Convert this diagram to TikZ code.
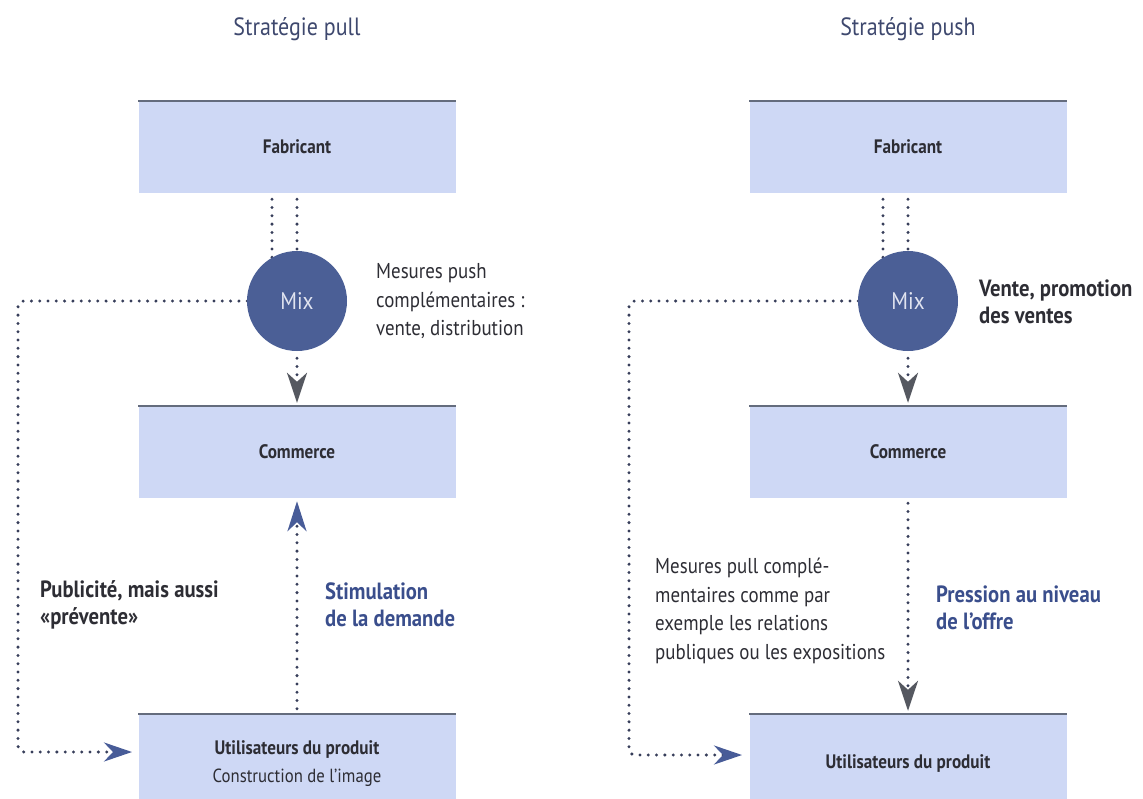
\documentclass[tikz,border=0pt]{standalone}
\usepackage{fontspec}
\setmainfont{PT Sans}[FakeStretch=0.88]
\usetikzlibrary{arrows.meta}
\definecolor{boxfill}{RGB}{206,216,245}
\definecolor{boxrule}{RGB}{100,108,125}
\definecolor{mixfill}{RGB}{75,95,150}
\definecolor{dotcol}{RGB}{55,62,90}
\definecolor{tipgray}{RGB}{85,88,96}
\definecolor{tipblue}{RGB}{72,92,152}
\definecolor{textdark}{RGB}{45,45,52}
\definecolor{textblue}{RGB}{58,78,140}
\definecolor{titlecol}{RGB}{62,72,110}
\definecolor{mixtext}{RGB}{225,228,240}
\tikzset{
  stage/.style={fill=boxfill, minimum width=317pt, minimum height=92pt, inner sep=0pt,
    text=textdark, font=\fontsize{19.5}{24}\selectfont\bfseries, align=center},
  stagetop/.style={draw=boxrule, line width=1.6pt},
  mix/.style={circle, fill=mixfill, minimum size=100pt, inner sep=0pt,
    text=mixtext, font=\fontsize{24}{28}\selectfont},
  dots/.style={draw=dotcol, line width=3.3pt, line cap=round, dash pattern=on 0pt off 8.3pt},
  graytip/.style={-{Stealth[length=30pt,width=20pt,inset=9pt,color=tipgray]}},
  bluetip/.style={-{Stealth[length=30pt,width=19pt,inset=9pt,color=tipblue]}},
  sidetip/.style={-{Stealth[length=28pt,width=19pt,inset=9pt,color=tipblue]}},
  title/.style={text=titlecol, font=\fontsize{25}{29}\selectfont},
  note/.style={text=textdark, align=left, anchor=west, inner sep=0pt,
    font=\fontsize{21.5}{28.5}\selectfont},
  boldnote/.style={note, font=\fontsize{23.5}{27}\selectfont\bfseries},
  bluenote/.style={boldnote, text=textblue},
}
\begin{document}
\begin{tikzpicture}[x=1pt,y=-1pt]
\useasboundingbox (0,0) rectangle (1143,798);
\clip (0,0) rectangle (1143,798);

% ---------- pull strategy ----------
\node[title] (titleL) at (297,29) {Stratégie pull};
\node[stage] (fabL) at (297,147) {Fabricant};
\node[stage] (comL) at (297,452) {Commerce};
\node[stage, minimum height=100pt] (usrL) at (297,764)
  {Utilisateurs du produit\\[4pt]{\mdseries\fontsize{19}{23}\selectfont Construction de l’image}};
\foreach \b in {fabL,comL,usrL}
  \draw[stagetop] (\b.north west) -- (\b.north east);

\coordinate (loopL) at (18,752);
\coordinate (inL) at (132,752);

\draw[dots, shorten <=6pt] ([xshift=-25pt]fabL.south) -- ([xshift=-25pt]fabL.south |- 0,258);
\draw[dots, shorten <=6pt] (fabL.south) -- ++(0,60);
\draw[dots, rounded corners=6pt, sidetip] (297,301) -| (loopL) -- (inL);
\node[mix] (mixL) at (297,301) {Mix};
\draw[dots, graytip, shorten <=7pt, shorten >=3pt] (mixL.south) -- (comL.north);
\draw[dots, bluetip, shorten <=5pt, shorten >=3pt] (usrL.north) -- (comL.south);

\node[note] (pushL) at (376,301.5)
  {Mesures push\\complémentaires :\\vente, distribution};
\node[boldnote] (pubL) at (40,605) {Publicité, mais aussi\\«prévente»};
\node[bluenote] (stimL) at (325,605) {Stimulation\\de la demande};

% ---------- push strategy ----------
\node[title] (titleR) at (908,29) {Stratégie push};
\node[stage] (fabR) at (908,147) {Fabricant};
\node[stage] (comR) at (908,452) {Commerce};
\node[stage, minimum height=100pt] (usrR) at (908,764) {Utilisateurs du produit};
\foreach \b in {fabR,comR,usrR}
  \draw[stagetop] (\b.north west) -- (\b.north east);

\coordinate (loopR) at (629,755);
\coordinate (inR) at (742,755);

\draw[dots, shorten <=6pt] ([xshift=-25pt]fabR.south) -- ([xshift=-25pt]fabR.south |- 0,258);
\draw[dots, shorten <=6pt] (fabR.south) -- ++(0,60);
\draw[dots, rounded corners=6pt, sidetip] (908,301) -| (loopR) -- (inR);
\node[mix] (mixR) at (908,301) {Mix};
\draw[dots, graytip, shorten <=7pt, shorten >=3pt] (mixR.south) -- (comR.north);
\draw[dots, graytip, shorten <=5pt, shorten >=3pt] (comR.south) -- (usrR.north);

\node[boldnote] (venteR) at (979,301.5) {Vente, promotion\\des ventes};
\node[note] (pullR) at (655,611)
  {Mesures pull complé-\\mentaires comme par\\exemple les relations\\publiques ou les expositions};
\node[bluenote] (pressR) at (936,608) {Pression au niveau\\de l’offre};
\end{tikzpicture}
\end{document}
